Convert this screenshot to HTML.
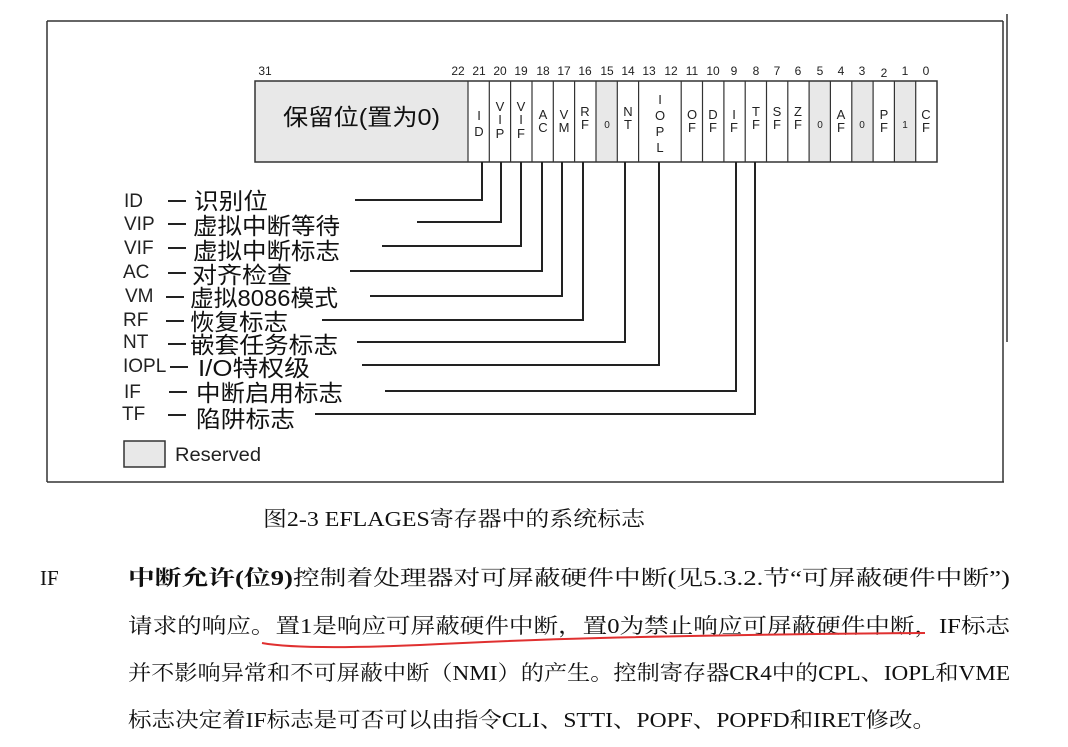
<!DOCTYPE html>
<html><head><meta charset="utf-8"><style>
html,body{margin:0;padding:0;background:#fff;width:1068px;height:747px;overflow:hidden}
svg{display:block}
.n{font-family:"Liberation Sans",sans-serif;font-size:12px;fill:#222}
.c{font-family:"Liberation Sans",sans-serif;font-size:13px;fill:#222;text-anchor:middle}
.lab{font-family:"Liberation Sans",sans-serif;font-size:19px;fill:#222}
.zh{font-family:"Liberation Sans","Noto Sans CJK SC",sans-serif;font-size:23px;fill:#111}
.p{font-family:"Liberation Serif","Noto Serif CJK SC",serif;font-size:21px;fill:#111}
</style></head><body>
<svg width="1068" height="747" viewBox="0 0 1068 747" xmlns="http://www.w3.org/2000/svg">
<g stroke="#333" stroke-width="1.5" fill="none">
<line x1="47" y1="21" x2="1003" y2="21"/>
<line x1="47" y1="21" x2="47" y2="482"/>
<line x1="1003" y1="21" x2="1003" y2="482"/>
<line x1="47" y1="482" x2="1004" y2="482"/>
<line x1="1007" y1="14" x2="1007" y2="342"/>
</g>
<rect x="255" y="81" width="213" height="81" fill="#e8e8e8"/>
<g fill="#e8e8e8">
<rect x="596" y="81" width="21.3" height="81"/>
<rect x="809" y="81" width="21.3" height="81"/>
<rect x="852" y="81" width="21.3" height="81"/>
<rect x="895" y="81" width="21.3" height="81"/>
</g>
<rect x="255" y="81" width="682" height="81" fill="none" stroke="#333" stroke-width="1.5"/>
<g stroke="#333" stroke-width="1.2">
<line x1="468" y1="81" x2="468" y2="162"/><line x1="489.3" y1="81" x2="489.3" y2="162"/>
<line x1="510.6" y1="81" x2="510.6" y2="162"/><line x1="532" y1="81" x2="532" y2="162"/>
<line x1="553.3" y1="81" x2="553.3" y2="162"/><line x1="574.6" y1="81" x2="574.6" y2="162"/>
<line x1="596" y1="81" x2="596" y2="162"/><line x1="617.3" y1="81" x2="617.3" y2="162"/>
<line x1="638.6" y1="81" x2="638.6" y2="162"/><line x1="681.2" y1="81" x2="681.2" y2="162"/>
<line x1="702.5" y1="81" x2="702.5" y2="162"/><line x1="723.9" y1="81" x2="723.9" y2="162"/>
<line x1="745.2" y1="81" x2="745.2" y2="162"/><line x1="766.5" y1="81" x2="766.5" y2="162"/>
<line x1="787.8" y1="81" x2="787.8" y2="162"/><line x1="809.1" y1="81" x2="809.1" y2="162"/>
<line x1="830.4" y1="81" x2="830.4" y2="162"/><line x1="851.8" y1="81" x2="851.8" y2="162"/>
<line x1="873.1" y1="81" x2="873.1" y2="162"/><line x1="894.4" y1="81" x2="894.4" y2="162"/>
<line x1="915.7" y1="81" x2="915.7" y2="162"/>
</g>
<text x="283" y="125" class="zh" font-size="23" textLength="157" lengthAdjust="spacingAndGlyphs">保留位(置为0)</text>
<g class="n" text-anchor="middle">
<text x="265" y="75">31</text><text x="458" y="75">22</text>
<text x="479" y="75">21</text><text x="500" y="75">20</text><text x="521" y="75">19</text>
<text x="543" y="75">18</text><text x="564" y="75">17</text><text x="585" y="75">16</text>
<text x="607" y="75">15</text><text x="628" y="75">14</text><text x="649" y="75">13</text>
<text x="671" y="75">12</text><text x="692" y="75">11</text><text x="713" y="75">10</text>
<text x="734" y="75">9</text><text x="756" y="75">8</text><text x="777" y="75">7</text>
<text x="798" y="75">6</text><text x="820" y="75">5</text><text x="841" y="75">4</text>
<text x="862" y="75">3</text><text x="884" y="77">2</text><text x="905" y="75">1</text>
<text x="926" y="75">0</text>
</g>
<g class="c">
<text x="479" y="120">I</text><text x="479" y="136">D</text>
<text x="500" y="111">V</text><text x="500" y="124">I</text><text x="500" y="138">P</text>
<text x="521" y="111">V</text><text x="521" y="124">I</text><text x="521" y="138">F</text>
<text x="543" y="119">A</text><text x="543" y="132">C</text>
<text x="564" y="119">V</text><text x="564" y="132">M</text>
<text x="585" y="116">R</text><text x="585" y="129">F</text>
<text x="607" y="128" font-size="10">0</text>
<text x="628" y="116">N</text><text x="628" y="129">T</text>
<text x="660" y="104">I</text><text x="660" y="120">O</text><text x="660" y="136">P</text><text x="660" y="152">L</text>
<text x="692" y="119">O</text><text x="692" y="132">F</text>
<text x="713" y="119">D</text><text x="713" y="132">F</text>
<text x="734" y="119">I</text><text x="734" y="132">F</text>
<text x="756" y="116">T</text><text x="756" y="129">F</text>
<text x="777" y="116">S</text><text x="777" y="129">F</text>
<text x="798" y="116">Z</text><text x="798" y="129">F</text>
<text x="820" y="128" font-size="10">0</text>
<text x="841" y="119">A</text><text x="841" y="132">F</text>
<text x="862" y="128" font-size="10">0</text>
<text x="884" y="119">P</text><text x="884" y="132">F</text>
<text x="905" y="128" font-size="10">1</text>
<text x="926" y="119">C</text><text x="926" y="132">F</text>
</g>
<g stroke="#222" stroke-width="2" fill="none">
<polyline points="482,162 482,200 355,200"/>
<polyline points="501,162 501,222 417,222"/>
<polyline points="521,162 521,246 382,246"/>
<polyline points="542,162 542,271 350,271"/>
<polyline points="562,162 562,296 370,296"/>
<polyline points="583,162 583,320 322,320"/>
<polyline points="625,162 625,342 357,342"/>
<polyline points="659,162 659,365 362,365"/>
<polyline points="736,162 736,391 385,391"/>
<polyline points="755,162 755,414 315,414"/>
</g>
<g class="lab">
<text x="124" y="207">ID</text><text x="124" y="230">VIP</text><text x="124" y="254">VIF</text>
<text x="123" y="278">AC</text><text x="125" y="302">VM</text><text x="123" y="326">RF</text>
<text x="123" y="348">NT</text><text x="123" y="372">IOPL</text><text x="124" y="398">IF</text>
<text x="122" y="420">TF</text>
</g>
<g stroke="#222" stroke-width="2">
<line x1="168" y1="201" x2="186" y2="201"/><line x1="168" y1="224" x2="186" y2="224"/>
<line x1="168" y1="248" x2="186" y2="248"/><line x1="168" y1="273" x2="186" y2="273"/>
<line x1="166" y1="297" x2="184" y2="297"/><line x1="166" y1="321" x2="184" y2="321"/>
<line x1="168" y1="344" x2="186" y2="344"/><line x1="170" y1="367" x2="188" y2="367"/>
<line x1="169" y1="392" x2="187" y2="392"/><line x1="168" y1="415" x2="186" y2="415"/>
</g>
<g class="zh" lengthAdjust="spacingAndGlyphs">
<text x="194" y="209" textLength="74" lengthAdjust="spacingAndGlyphs">识别位</text>
<text x="193" y="234" textLength="147" lengthAdjust="spacingAndGlyphs">虚拟中断等待</text>
<text x="193" y="259" textLength="147" lengthAdjust="spacingAndGlyphs">虚拟中断标志</text>
<text x="192" y="283" textLength="100" lengthAdjust="spacingAndGlyphs">对齐检查</text>
<text x="190" y="306" textLength="148" lengthAdjust="spacingAndGlyphs">虚拟8086模式</text>
<text x="190" y="330" textLength="98" lengthAdjust="spacingAndGlyphs">恢复标志</text>
<text x="190" y="353" textLength="148" lengthAdjust="spacingAndGlyphs">嵌套任务标志</text>
<text x="198" y="376" textLength="112" lengthAdjust="spacingAndGlyphs">I/O特权级</text>
<text x="196" y="401" textLength="147" lengthAdjust="spacingAndGlyphs">中断启用标志</text>
<text x="196" y="427" textLength="99" lengthAdjust="spacingAndGlyphs">陷阱标志</text>
</g>
<rect x="124" y="441" width="41" height="26" fill="#e8e8e8" stroke="#333" stroke-width="1.5"/>
<text x="175" y="461" class="lab" font-size="19" textLength="86" lengthAdjust="spacingAndGlyphs">Reserved</text>
<text x="263" y="526" class="p" font-size="21" textLength="382" lengthAdjust="spacingAndGlyphs">图2-3 EFLAGES寄存器中的系统标志</text>
<text x="40" y="585" class="p">IF</text>
<text x="128" y="585" class="p" textLength="882" lengthAdjust="spacingAndGlyphs"><tspan font-weight="bold">中断允许(位9)</tspan>控制着处理器对可屏蔽硬件中断(见5.3.2.节“可屏蔽硬件中断”)</text>
<text x="128" y="633" class="p" textLength="882" lengthAdjust="spacingAndGlyphs">请求的响应。置1是响应可屏蔽硬件中断，置0为禁止响应可屏蔽硬件中断，IF标志</text>
<text x="128" y="680" class="p" textLength="882" lengthAdjust="spacingAndGlyphs">并不影响异常和不可屏蔽中断（NMI）的产生。控制寄存器CR4中的CPL、IOPL和VME</text>
<text x="128" y="727" class="p" textLength="808" lengthAdjust="spacingAndGlyphs">标志决定着IF标志是可否可以由指令CLI、STTI、POPF、POPFD和IRET修改。</text>
<path d="M262,643 Q300,650 420,645 Q520,640 600,638 Q760,634 925,633" stroke="#e03030" stroke-width="2" fill="none"/>
</svg>
</body></html>
